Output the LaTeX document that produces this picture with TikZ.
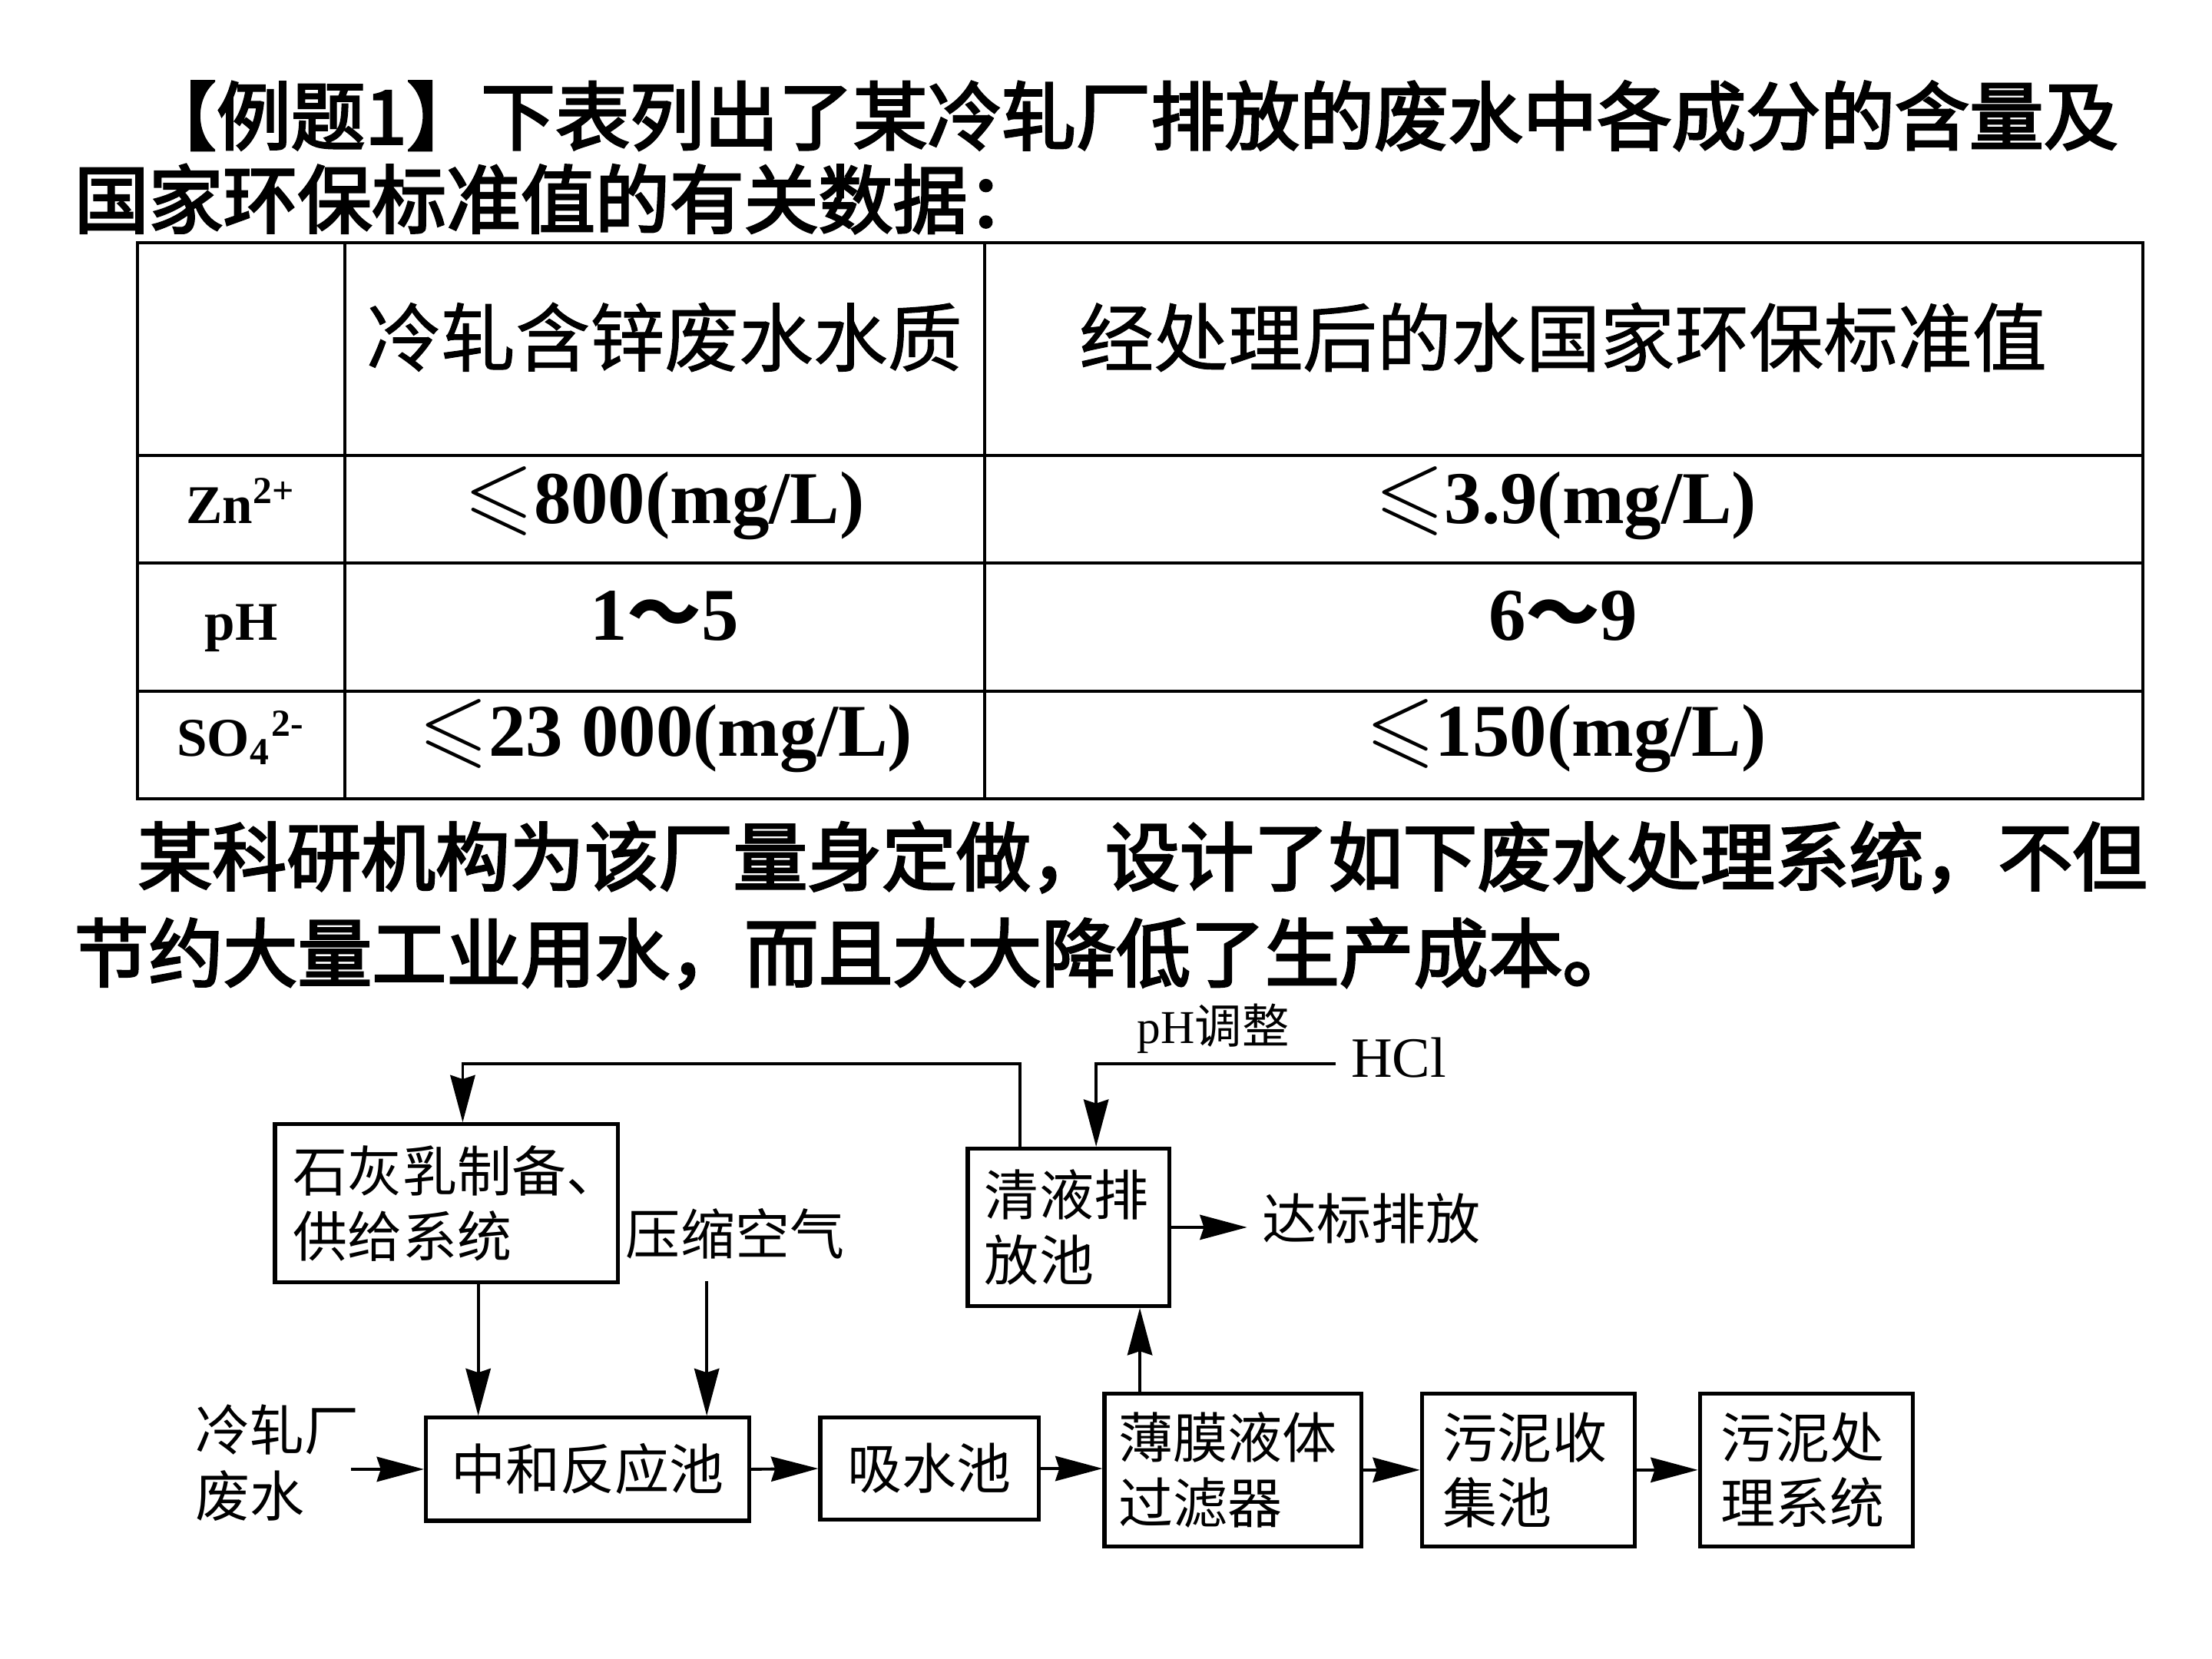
\documentclass[tikz,border=0pt]{standalone}
\usepackage{fontspec}
\usepackage{amssymb}
\setmainfont{Liberation Serif}
\newfontfamily\cjk{Noto Sans CJK SC}
\newfontfamily\cjkmed{Noto Sans CJK SC}[FakeBold=3]
\newfontfamily\cjkhdr{Noto Sans CJK SC}[FakeBold=1]
\usepackage{tikz}
\usetikzlibrary{arrows.meta,positioning,calc}

\newcommand\ttlfont{\fontsize{15}{18}\selectfont\cjkmed}
\newcommand\hdrfont{\fontsize{15}{18}\selectfont\cjkhdr}
\newcommand\numfont{\fontsize{15}{18}\selectfont\bfseries}
\newcommand\rowfont{\fontsize{11}{13}\selectfont\bfseries}
\newcommand\boxfont{\fontsize{11}{13.2}\selectfont\cjk}
\newcommand\phfont{\fontsize{9.5}{11}\selectfont}
\newcommand\hclfont{\fontsize{11.5}{13}\selectfont}
\newcommand\lesl{\scalebox{1.2}{$\leqslant$}}

\begin{document}
\begin{tikzpicture}[x=0.01cm, y=-0.01cm,
    box/.style={draw, line width=0.8pt, inner ysep=0pt, font=\boxfont},
    lbox/.style={box, align=left},
    arr/.style={-{Stealth[length=9.5pt,width=5pt,inset=0.8pt]}, line width=0.6pt},
    grid/.style={line width=0.6pt},
    txt/.style={anchor=west, inner sep=0pt}]
    \useasboundingbox (0,0) rectangle (1568,1176);

    % Title
    \node[txt, font=\ttlfont] (t1) at (100,82) {【例题1】下表列出了某冷轧厂排放的废水中各成分的含量及};
    \node[txt, font=\ttlfont] (t2) at (52,141) {国家环保标准值的有关数据：};

    % Table
    \draw[grid] (97.6,172) rectangle (1519,566.2);
    \foreach \y in {323,399.3,490}
        \draw[grid] (97.6,\y) -- (1519,\y);
    \foreach \x in {244.6,698}
        \draw[grid] (\x,172) -- (\x,566.2);

    \node[font=\hdrfont] (h1) at (471,239) {冷轧含锌废水水质};
    \node[font=\hdrfont] (h2) at (1108,239) {经处理后的水国家环保标准值};

    \node[anchor=base, font=\rowfont] (zn) at (171,371) {Zn\textsuperscript{2+}};
    \node[anchor=base, font=\numfont] (zn1) at (471,371) {\lesl800(mg/L)};
    \node[anchor=base, font=\numfont] (zn2) at (1110,371) {\lesl3.9(mg/L)};

    \node[anchor=base, font=\rowfont] (ph) at (171,454) {pH};
    \node[anchor=base, font=\numfont] (ph1) at (471,454) {1{\cjk ～}5};
    \node[anchor=base, font=\numfont] (ph2) at (1108,454) {6{\cjk ～}9};

    \node[anchor=base, font=\rowfont] (so) at (171,536) {SO\textsubscript{4}\textsuperscript{2-}};
    \node[anchor=base, font=\numfont] (so1) at (472,536) {\lesl23 000(mg/L)};
    \node[anchor=base, font=\numfont] (so2) at (1110,536) {\lesl150(mg/L)};

    % Paragraph
    \node[txt, font=\ttlfont] (p1) at (97,607.6) {某科研机构为该厂量身定做，设计了如下废水处理系统，不但};
    \node[txt, font=\ttlfont] (p2) at (52,676) {节约大量工业用水，而且大大降低了生产成本。};

    % Flow chart boxes
    \node[lbox, text width=2.17cm, inner xsep=0.13cm, minimum height=1.12cm] (lime) at (316.5,853) {石灰乳制备、\\供给系统};
    \node[lbox, text width=1.19cm, inner xsep=0.12cm, minimum height=1.115cm] (clear) at (757.5,870) {清液排\\放池};
    \node[box, minimum width=2.29cm, minimum height=0.73cm, inner xsep=0pt] (neutral) at (416.5,1041.5) {中和反应池};
    \node[box, minimum width=1.55cm, minimum height=0.72cm, inner xsep=0pt] (absorb) at (659,1041) {吸水池};
    \node[lbox, text width=1.62cm, inner xsep=0.10cm, minimum height=1.08cm] (film) at (874,1042) {薄膜液体\\过滤器};
    \node[lbox, text width=1.21cm, inner xsep=0.15cm, minimum height=1.08cm] (sludge) at (1083.5,1042) {污泥收\\集池};
    \node[lbox, text width=1.21cm, inner xsep=0.15cm, minimum height=1.08cm] (treat) at (1280.5,1042) {污泥处\\理系统};

    % Free labels
    \node[txt, font=\boxfont, align=left] (inlet) at (138,1037) {冷轧厂\\废水};
    \node[txt, font=\boxfont] (air) at (443,874.5) {压缩空气};
    \node[txt, font=\boxfont] (outlet) at (894,864) {达标排放};
    \node[inner sep=0pt, font=\phfont] (phadj) at (860,729) {pH{\cjk 调整}};
    \node[txt, font=\hclfont] (hcl) at (957,750) {HCl};

    % Connectors
    \coordinate (src) at (249,1041.5);
    \coordinate (limex) at (339,0);
    \coordinate (airx) at (501,908);
    \coordinate (upx) at (808,0);
    \coordinate (fbr) at (723,754);
    \coordinate (fbl) at (328,754);
    \coordinate (hclend) at (947,754);
    \coordinate (hclx) at (777,0);

    \draw[arr] (src) -- (neutral.west);
    \draw[arr] (neutral.east) -- (absorb.west);
    \draw[arr] (absorb.east) -- (absorb.east -| film.west);
    \draw[arr] (film.east) -- (sludge.west);
    \draw[arr] (sludge.east) -- (treat.west);
    \draw[arr] (lime.south -| limex) -- (neutral.north -| limex);
    \draw[arr] (airx) -- (neutral.north -| airx);
    \draw[arr] (film.north -| upx) -- (clear.south -| upx);
    \draw[arr] (clear.east) -- ([xshift=-0.1cm]outlet.west |- clear.east);
    \draw[arr] (clear.north -| fbr) -- (fbr) -- (fbl) -- (lime.north -| fbl);
    \draw[arr] (hclend) -| (clear.north -| hclx);
\end{tikzpicture}
\end{document}
